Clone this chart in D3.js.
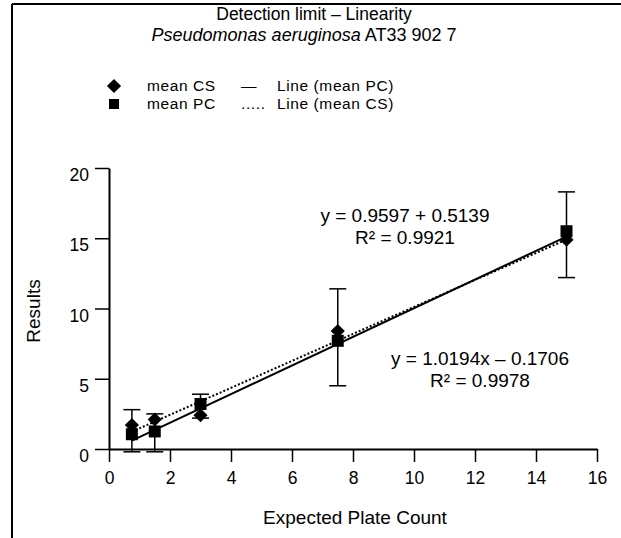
<!DOCTYPE html>
<html>
<head>
<meta charset="utf-8">
<script src="https://cdn.jsdelivr.net/npm/d3@7"></script>
<style>
  body { margin: 0; background: #fff; }
  svg { font-family: "Liberation Sans", Arial, sans-serif; }
  .axis path, .axis line { stroke: #000; }
  .axis text { font-size: 17.5px; fill: #000; }
</style>
</head>
<body>
<script>
// data
const expected = [0.75, 1.5, 3, 7.5, 15];
const meanCS = [1.7, 2.1, 2.4, 8.4, 14.9];
const meanPC = [1.05, 1.25, 3.2, 7.7, 15.5];
const errLow = [-0.2, -0.2, 2.2, 4.5, 12.2];
const errHigh = [2.8, 2.5, 3.9, 11.4, 18.3];
const xTicks = [0, 2, 4, 6, 8, 10, 12, 14, 16];
const yTicks = [0, 5, 10, 15, 20];
const fitPC = { slope: 1.0194, intercept: -0.1706, eq: "y = 1.0194x \u2013 0.1706", r2: "0.9978" };
const fitCS = { slope: 0.9597, intercept: 0.5139, eq: "y = 0.9597 + 0.5139", r2: "0.9921" };
const legendNames = ["mean CS", "mean PC"];
const legendStyles = ["\u2014", "....."];
const legendLines = ["Line (mean PC)", "Line (mean CS)"];

// frame of the plot area
var margin = {top: 168, left: 109},
    width = 488,
    height = 281;

var svg = d3.select("body")
    .append("svg")
    .attr("width", 621)
    .attr("height", 538);

// page border (top and left only)
svg.append("line").attr("x1", 12).attr("y1", 4).attr("x2", 621).attr("y2", 4)
    .attr("stroke", "#000").attr("stroke-width", 2);
svg.append("line").attr("x1", 12).attr("y1", 4).attr("x2", 12).attr("y2", 538)
    .attr("stroke", "#000").attr("stroke-width", 2);

// title
svg.append("text").attr("x", 314).attr("y", 20).attr("text-anchor", "middle")
    .style("font-size", "17.5px").text("Detection limit \u2013 Linearity");
var sub = svg.append("text").attr("x", 304).attr("y", 41).attr("text-anchor", "middle")
    .style("font-size", "18px");
sub.append("tspan").style("font-style", "italic").text("Pseudomonas aeruginosa");
sub.append("tspan").text(" AT33 902 7");

var g = svg.append("g")
    .attr("transform", "translate(" + margin.left + "," + margin.top + ")");

const x = d3.scaleLinear().domain([0, 16]).range([0, width]);
const y = d3.scaleLinear().domain([0, 20]).range([height, 0]);

// axes
g.append("g")
    .attr("class", "axis")
    .attr("transform", "translate(0," + height + ")")
    .call(d3.axisBottom(x).tickValues(xTicks).tickSize(13).tickSizeOuter(0).tickPadding(10))
    .call(a => a.select(".domain").attr("stroke-width", 2))
    .call(a => a.selectAll(".tick line").attr("stroke-width", 1.5));

g.append("g")
    .attr("class", "axis")
    .call(d3.axisLeft(y).tickValues(yTicks).tickSize(14).tickSizeOuter(0).tickPadding(6))
    .call(a => a.select(".domain").attr("stroke-width", 2))
    .call(a => a.selectAll(".tick line").attr("stroke-width", 1.5))
    .call(a => a.selectAll(".tick text").attr("dy", "0.72em"));

// axis titles
svg.append("text").attr("x", 355).attr("y", 524).attr("text-anchor", "middle")
    .style("font-size", "19px").text("Expected Plate Count");
svg.append("text").attr("transform", "translate(40,311) rotate(-90)").attr("text-anchor", "middle")
    .style("font-size", "19px").text("Results");

// trend lines
const xr = d3.extent(expected);
function fitPoints(f) { return xr.map(v => ({x: v, y: f.slope * v + f.intercept})); }
const line = d3.line().x(d => x(d.x)).y(d => y(d.y));

g.append("path").datum(fitPoints(fitCS))
    .attr("fill", "none").attr("stroke", "#000").attr("stroke-width", 2)
    .attr("stroke-dasharray", "2,2").attr("d", line);
g.append("path").datum(fitPoints(fitPC))
    .attr("fill", "none").attr("stroke", "#000").attr("stroke-width", 2)
    .attr("d", line);

// error bars
const eb = g.append("g").attr("stroke", "#000").attr("stroke-width", 1.5);
expected.forEach(function(v, i) {
  eb.append("line").attr("x1", x(v)).attr("x2", x(v)).attr("y1", y(errLow[i])).attr("y2", y(errHigh[i]));
  eb.append("line").attr("x1", x(v) - 8.5).attr("x2", x(v) + 8.5).attr("y1", y(errLow[i])).attr("y2", y(errLow[i]));
  eb.append("line").attr("x1", x(v) - 8.5).attr("x2", x(v) + 8.5).attr("y1", y(errHigh[i])).attr("y2", y(errHigh[i]));
});

// markers
const diamond = d3.symbol().type(d3.symbolSquare).size(100);
const square = d3.symbol().type(d3.symbolSquare).size(144);

g.selectAll(".pc").data(expected).enter().append("path")
    .attr("transform", (d, i) => "translate(" + x(d) + "," + y(meanPC[i]) + ")")
    .attr("d", square).attr("fill", "#000");
g.selectAll(".cs").data(expected).enter().append("path")
    .attr("transform", (d, i) => "translate(" + x(d) + "," + y(meanCS[i]) + ") rotate(45)")
    .attr("d", diamond).attr("fill", "#000");

// equations
function eqText(f, cx, by) {
  var t = svg.append("text").attr("text-anchor", "middle").style("font-size", "19px");
  t.append("tspan").attr("x", cx).attr("y", by).text(f.eq);
  t.append("tspan").attr("x", cx).attr("y", by + 22).text("R\u00b2 = " + f.r2);
}
eqText(fitCS, 405, 222);
eqText(fitPC, 480, 365);

// legend
const lg = svg.append("g").style("font-size", "15.5px").style("letter-spacing", "0.6px");
lg.append("path").attr("transform", "translate(114,86) rotate(45)").attr("d", diamond).attr("fill", "#000");
lg.append("path").attr("transform", "translate(114,104)").attr("d", d3.symbol().type(d3.symbolSquare).size(100)).attr("fill", "#000");
[[147, legendNames], [241, legendStyles], [277, legendLines]].forEach(function(c) {
  var t = lg.append("text");
  c[1].forEach(function(s, i) {
    t.append("tspan").attr("x", c[0]).attr("y", 91 + i * 18).text(s);
  });
});
</script>
</body>
</html>
